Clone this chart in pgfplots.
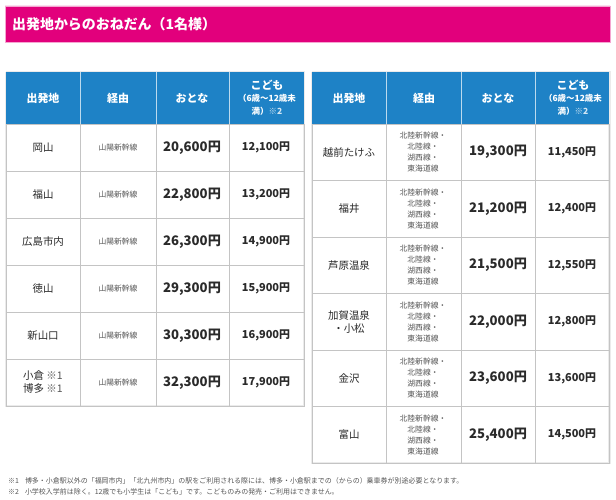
\documentclass[border=0pt]{standalone}
\usepackage{fontspec}
\setmainfont{Noto Sans CJK JP}
\usepackage{pgfplots}
\pgfplotsset{compat=1.18}
\definecolor{TitleMag}{HTML}{E2007C}
\definecolor{HeadBlue}{HTML}{1E82C6}
\definecolor{GridGray}{HTML}{C4C4C4}
\definecolor{TxtDark}{HTML}{2A2A2A}
\definecolor{TxtMid}{HTML}{555555}
\tikzset{
  nm/.style={font=\fontsize{10.5}{13}\selectfont,text=TxtDark,align=center,inner sep=0pt},
  rt/.style={font=\fontsize{7.8}{11}\selectfont,text=TxtMid,align=center,inner sep=0pt},
  ad/.style={font=\fontsize{13.2}{16}\selectfont\bfseries,text=TxtDark,inner sep=0pt},
  ch/.style={font=\fontsize{11}{13}\selectfont\bfseries,text=TxtDark,inner sep=0pt},
  hd/.style={font=\fontsize{11}{13}\selectfont\bfseries,text=white,inner sep=0pt},
}

% left table: columns 6,80,156,229,304 ; rows start 124, step 47
\newcommand\lrow[4]{%
  \node[nm] at (axis cs:43,{124+47*(#1+0.5)}) {#2};
  \node[rt] at (axis cs:118,{124+47*(#1+0.5)}) {山陽新幹線};
  \node[ad] at (axis cs:192,{124+47*(#1+0.5)}) {#3};
  \node[ch] at (axis cs:266,{124+47*(#1+0.5)}) {#4};}
% right table: columns 312,386,461,535,609 ; rows start 124, step 56.5
\newcommand\rrow[4]{%
  \node[nm] at (axis cs:349,{124+56.5*(#1+0.5)}) {#2};
  \node[rt] at (axis cs:423,{124+56.5*(#1+0.5)}) {北陸新幹線・\\北陸線・\\湖西線・\\東海道線};
  \node[ad] at (axis cs:498,{124+56.5*(#1+0.5)}) {#3};
  \node[ch] at (axis cs:572,{124+56.5*(#1+0.5)}) {#4};}
\newcommand\header[1]{%
  \node[hd] at (axis cs:{#1+37},98) {出発地};
  \node[hd] at (axis cs:{#1+112},98) {経由};
  \node[hd] at (axis cs:{#1+186},98) {おとな};
  \node[hd,align=center] at (axis cs:{#1+261},98) {\fontsize{11}{13}\selectfont こども\\[-1pt]
    \fontsize{8.5}{11}\selectfont （6歳〜12歳未\\\fontsize{8.5}{11}\selectfont 満）\textcolor{white!80!HeadBlue}{※2}};}
\newcommand\gv[3]{\draw[GridGray,line width=0.8pt] (axis cs:#1,#2) -- (axis cs:#1,#3);}
\newcommand\gh[3]{\draw[GridGray,line width=0.8pt] (axis cs:#2,#1) -- (axis cs:#3,#1);}
\newcommand\gw[1]{\draw[white!70!HeadBlue,line width=0.6pt] (axis cs:#1,72) -- (axis cs:#1,124);}

\begin{document}
\begin{tikzpicture}
\begin{axis}[
  width=616bp,height=500bp,scale only axis,
  xmin=0,xmax=616,ymin=0,ymax=500,y dir=reverse,
  axis lines=none,ticks=none,clip=false,
]
% full page frame
\path (axis cs:0,0) rectangle (axis cs:616,500);
% title bar
\addplot[draw=TitleMag!35,line width=0.8pt,fill=TitleMag] coordinates {(5,6) (610,6) (610,42) (5,42) (5,6)};
\node[anchor=west,text=white,font=\fontsize{14}{17}\selectfont\bfseries,inner sep=0pt] at (axis cs:12,24) {出発地からのおねだん（1名様）};

% table shadows
\addplot[draw=black!8,line width=3pt,fill=white] coordinates {(6,72) (304,72) (304,406) (6,406) (6,72)};
\addplot[draw=black!8,line width=3pt,fill=white] coordinates {(312,72) (609,72) (609,463) (312,463) (312,72)};

% header fills
\addplot[draw=none,fill=HeadBlue] coordinates {(6,72) (304,72) (304,124) (6,124)};
\addplot[draw=none,fill=HeadBlue] coordinates {(312,72) (609,72) (609,124) (312,124)};

% left grid
\gv{80}{124}{406}\gv{156}{124}{406}\gv{229}{124}{406}
\gw{80}\gw{156}\gw{229}
\gh{171}{6}{304}\gh{218}{6}{304}\gh{265}{6}{304}\gh{312}{6}{304}\gh{359}{6}{304}
\draw[GridGray,line width=0.8pt] (axis cs:6,124) rectangle (axis cs:304,406);
% right grid
\gv{386}{124}{463}\gv{461}{124}{463}\gv{535}{124}{463}
\gw{386}\gw{461}\gw{535}
\gh{180.5}{312}{609}\gh{237}{312}{609}\gh{293.5}{312}{609}\gh{350}{312}{609}\gh{406.5}{312}{609}
\draw[GridGray,line width=0.8pt] (axis cs:312,124) rectangle (axis cs:609,463);

% headers
\header{6}
\header{312}

% left rows
\lrow{0}{岡山}{20,600円}{12,100円}
\lrow{1}{福山}{22,800円}{13,200円}
\lrow{2}{広島市内}{26,300円}{14,900円}
\lrow{3}{徳山}{29,300円}{15,900円}
\lrow{4}{新山口}{30,300円}{16,900円}
\lrow{5}{小倉 \textcolor{TxtMid}{※1}\\博多 \textcolor{TxtMid}{※1}}{32,300円}{17,900円}

% right rows
\rrow{0}{越前たけふ}{19,300円}{11,450円}
\rrow{1}{福井}{21,200円}{12,400円}
\rrow{2}{芦原温泉}{21,500円}{12,550円}
\rrow{3}{加賀温泉\\・小松}{22,000円}{12,800円}
\rrow{4}{金沢}{23,600円}{13,600円}
\rrow{5}{富山}{25,400円}{14,500円}

% footnotes
\node[anchor=west,inner sep=0pt,text=TxtMid,font=\fontsize{7}{9}\selectfont] at (axis cs:8,481) {※1\hspace{6pt}博多・小倉駅以外の「福岡市内」「北九州市内」の駅をご利用される際には、博多・小倉駅までの（からの）乗車券が別途必要となります。};
\node[anchor=west,inner sep=0pt,text=TxtMid,font=\fontsize{7}{9}\selectfont] at (axis cs:8,491.5) {※2\hspace{6pt}小学校入学前は除く。12歳でも小学生は「こども」です。こどものみの発売・ご利用はできません。};
\end{axis}
\end{tikzpicture}
\end{document}
